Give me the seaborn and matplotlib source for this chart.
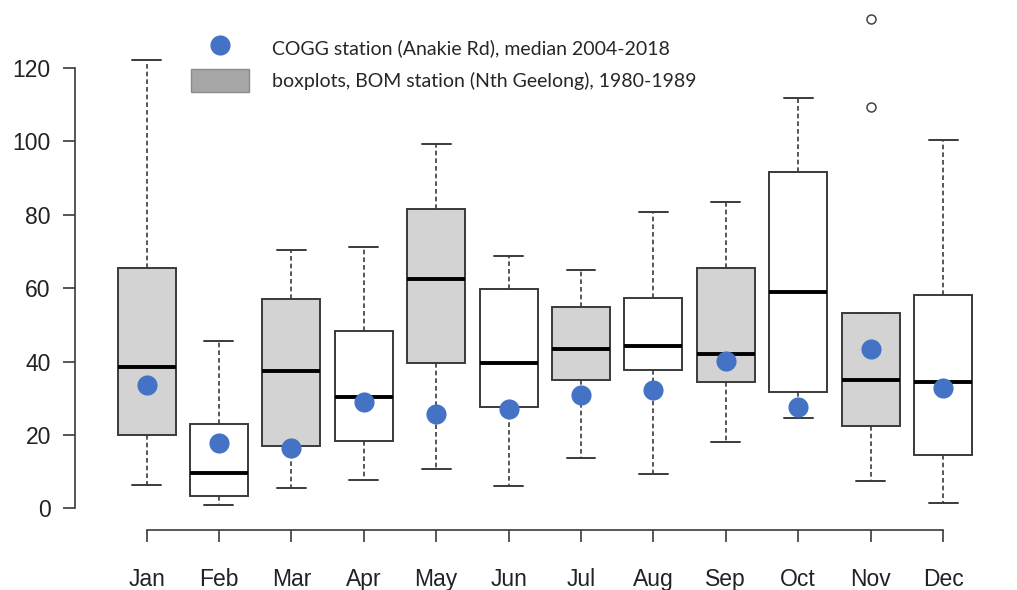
import matplotlib
matplotlib.use("Agg")
import numpy as np
import pandas as pd
import matplotlib.pyplot as plt
import seaborn as sns
from matplotlib.lines import Line2D
from matplotlib.patches import Patch

# ---------------- data ----------------
months = ["Jan", "Feb", "Mar", "Apr", "May", "Jun",
          "Jul", "Aug", "Sep", "Oct", "Nov", "Dec"]
# BOM station (Nth Geelong) 1980-1989 : five-number summaries per month
bom_min    = [6.4, 1.0, 5.7, 7.8, 10.7, 6.2, 13.8, 9.3, 18.2, 24.5, 7.5, 1.4]
bom_q1     = [20.0, 3.4, 17.0, 18.4, 39.5, 27.6, 35.0, 37.7, 34.5, 31.8, 22.5, 14.6]
bom_median = [38.6, 9.6, 37.4, 30.4, 62.4, 39.7, 43.3, 44.2, 42.1, 58.9, 35.0, 34.5]
bom_q3     = [65.4, 23.0, 57.1, 48.3, 81.5, 59.7, 54.9, 57.2, 65.6, 91.6, 53.1, 58.2]
bom_max    = [122.1, 45.6, 70.4, 71.1, 99.2, 68.8, 64.9, 80.6, 83.5, 111.9, 53.1, 100.3]
nov_outliers = [133.2, 109.4]
# COGG station (Anakie Rd), median 2004-2018
cogg_median = [33.6, 17.7, 16.4, 29.1, 25.7, 27.0, 30.8, 32.3, 40.2, 27.5, 43.4, 32.8]

legend_labels = ["COGG station (Anakie Rd), median 2004-2018",
                 "boxplots, BOM station (Nth Geelong), 1980-1989"]

# ---------------- styling ----------------
box_fill = ["#D3D3D3", "white"] * 6
dot_color = "#4472C4"
line_color = "#3a3a3a"

rows = []
for m, lo, q1, md, q3, hi in zip(months, bom_min, bom_q1, bom_median, bom_q3, bom_max):
    for v in (lo, q1, md, q3, hi):
        rows.append((m, v))
df = pd.DataFrame(rows, columns=["month", "rain"])

sns.set_theme(style="ticks")
plt.rcParams["font.family"] = ["Liberation Sans", "DejaVu Sans"]

fig = plt.figure(figsize=(10.17, 5.9), dpi=100)
ax = fig.add_axes([0.1085, 0.1119, 0.8544, 0.8797])

sns.boxplot(data=df, x="month", y="rain", order=months,
            hue="month", hue_order=months, palette=box_fill, legend=False,
            width=0.8, whis=(0, 100), linecolor=line_color, linewidth=1.4,
            fliersize=0,
            whiskerprops=dict(linestyle=(0, (2.8, 1.8)), linewidth=1.2),
            medianprops=dict(color="black", linewidth=2.8),
            ax=ax)

sns.stripplot(x=months, y=cogg_median, order=months, jitter=False,
              color=dot_color, size=14.5, linewidth=0, zorder=5, ax=ax)

sns.stripplot(x=["Nov"] * len(nov_outliers), y=nov_outliers, order=months,
              jitter=False, color="white", edgecolor="#444444", linewidth=1.1,
              size=6.5, zorder=5, ax=ax)

ax.set_xlim(-0.5, 11.5)
ax.set_ylim(-4.22, 137.1)
ax.set_yticks([0, 20, 40, 60, 80, 100, 120])
ax.set_xlabel("")
ax.set_ylabel("")

for s in ("top", "right"):
    ax.spines[s].set_visible(False)
ax.spines["left"].set_position(("outward", 25.3))
ax.spines["bottom"].set_position(("outward", 4.3))
ax.spines["left"].set_bounds(0, 120)
ax.spines["bottom"].set_bounds(0, 11)
for s in ("left", "bottom"):
    ax.spines[s].set_color(line_color)
    ax.spines[s].set_linewidth(1.2)

ax.tick_params(axis="both", length=8.6, width=1.2, color=line_color,
               labelsize=16.5, labelcolor="#222222")
ax.tick_params(axis="y", pad=9)
ax.tick_params(axis="x", pad=19)

handles = [Line2D([], [], marker="o", linestyle="none", markersize=14.5,
                  markerfacecolor=dot_color, markeredgewidth=0),
           Patch(facecolor="#A6A6A6", edgecolor="#8a8a8a", linewidth=1.0)]
fig.legend(handles, legend_labels, loc="upper left",
           bbox_to_anchor=(191 / 1017, 1 - 36 / 590),
           frameon=False, borderpad=0, borderaxespad=0,
           handlelength=2.98, handleheight=1.42, handletextpad=1.18,
           labelspacing=0.55,
           prop={"family": ["Lato", "DejaVu Sans"], "size": 14})

fig.savefig("out.png", dpi=100)
